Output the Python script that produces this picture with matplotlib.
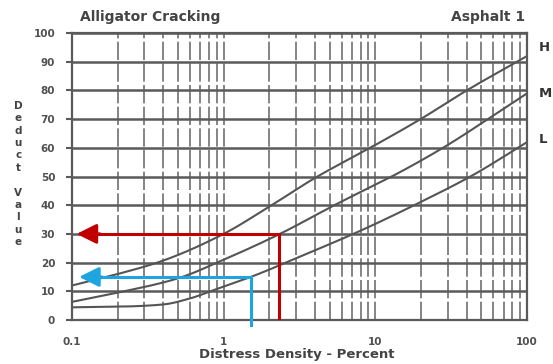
import numpy as np
import matplotlib
matplotlib.use("Agg")
import matplotlib.pyplot as plt

# curves (density %, deduct value)
h_x = [0.1, 0.2, 0.39, 1, 2, 4, 10, 20.3, 40, 100]
h_y = [12, 16, 20.5, 30, 39.5, 49.5, 61, 70.3, 80, 92]
m_x = [0.1, 0.2, 0.5, 1, 2.35, 5.6, 14.5, 30, 57, 100]
m_y = [6.3, 9.5, 14.5, 21, 30, 40.5, 51.5, 61, 70.5, 79]
l_x = [0.1, 0.23, 0.4, 0.6, 0.87, 1.6, 3.0, 7.9, 19.7, 44, 100]
l_y = [4.4, 4.7, 5.4, 7.5, 10.5, 15.5, 21.5, 31, 41, 50.5, 62]
curve_names = ['H', 'M', 'L']
curve_label_y = [95, 79, 63]

# example readings
red_density, red_deduct = 2.32, 30
blue_density, blue_deduct = 1.52, 15

yticks = [0, 10, 20, 30, 40, 50, 60, 70, 80, 90, 100]
xticks = [0.1, 1, 10, 100]
xtick_labels = ['0.1', '1', '10', '100']


def smooth(xs, ys, n=200):
    # monotone cubic through the read points, in log-x
    x = np.log10(xs)
    y = np.asarray(ys, float)
    h = np.diff(x)
    d = np.diff(y) / h
    m = np.zeros_like(y)
    m[0], m[-1] = d[0], d[-1]
    for k in range(1, len(y) - 1):
        if d[k - 1] * d[k] > 0:
            w1 = 2 * h[k] + h[k - 1]
            w2 = h[k] + 2 * h[k - 1]
            m[k] = (w1 + w2) / (w1 / d[k - 1] + w2 / d[k])
    xx = np.linspace(x[0], x[-1], n)
    idx = np.clip(np.searchsorted(x, xx) - 1, 0, len(h) - 1)
    t = (xx - x[idx]) / h[idx]
    yy = ((2 * t**3 - 3 * t**2 + 1) * y[idx] + (t**3 - 2 * t**2 + t) * h[idx] * m[idx]
          + (-2 * t**3 + 3 * t**2) * y[idx + 1] + (t**3 - t**2) * h[idx] * m[idx + 1])
    return 10 ** xx, yy


ink = '#505050'
plt.rcParams['font.family'] = ['DejaVu Sans']

fig = plt.figure(figsize=(5.53, 3.64), dpi=100)
ax = fig.add_axes([0.130, 0.121, 0.823, 0.788])
ax.set_xscale('log')
ax.set_xlim(0.1, 100)
ax.set_ylim(0, 100)

# vertical grid at every 1..9 multiple of each decade
vx = [m * 10.0 ** d for d in (-1, 0, 1) for m in range(1, 10)] + [100]
for v in vx:
    ax.axvline(v, color='#707070', lw=1.2, ls=(0, (11, 2)), zorder=1)
for v in yticks:
    ax.axhline(v, color='#5a5a5a', lw=1.8, zorder=1)

for xs, ys in [(h_x, h_y), (m_x, m_y), (l_x, l_y)]:
    sx, sy = smooth(xs, ys)
    ax.plot(sx, sy, color='#555555', lw=1.5, zorder=2)

for name, yy in zip(curve_names, curve_label_y):
    ax.text(1.025, yy, name, transform=ax.get_yaxis_transform(), fontsize=9.5,
            fontweight='bold', color='#333333', va='center', ha='left')

# example arrows
ax.plot([red_density, red_density, 0.145], [0.3, red_deduct, red_deduct],
        color='#c00000', lw=2.2, zorder=4, solid_joinstyle='miter')
ax.annotate('', xy=(0.103, red_deduct), xytext=(0.16, red_deduct),
            arrowprops=dict(arrowstyle='-|>,head_length=1.2,head_width=0.6',
                            color='#c00000', lw=2.2), zorder=5)
ax.plot([blue_density, blue_density, 0.15], [-1.7, blue_deduct, blue_deduct],
        color='#1ea5e0', lw=2.2, zorder=4, solid_joinstyle='miter', clip_on=False)
ax.annotate('', xy=(0.107, blue_deduct), xytext=(0.165, blue_deduct),
            arrowprops=dict(arrowstyle='-|>,head_length=1.2,head_width=0.6',
                            color='#1ea5e0', lw=2.2), zorder=5)

for s in ax.spines.values():
    s.set_color('#5a5a5a')
    s.set_linewidth(1.6)

ax.set_yticks(yticks)
ax.set_yticklabels([str(v) for v in yticks])
ax.set_xticks(xticks)
ax.set_xticklabels(xtick_labels)
ax.xaxis.set_minor_locator(matplotlib.ticker.NullLocator())
ax.tick_params(axis='y', length=4, width=1.5, color='#5a5a5a', pad=8,
               labelsize=7.5, labelcolor=ink)
ax.tick_params(axis='x', length=0, pad=12, labelsize=7.5, labelcolor=ink)
for lab in ax.get_yticklabels() + ax.get_xticklabels():
    lab.set_fontweight('bold')

fig.text(0.145, 0.952, 'Alligator Cracking', fontsize=10, fontweight='bold',
         color='#444444', ha='left', va='center')
fig.text(0.950, 0.952, 'Asphalt 1', fontsize=10, fontweight='bold',
         color='#444444', ha='right', va='center')
fig.text(0.537, 0.025, 'Distress Density - Percent', fontsize=9.5, fontweight='bold',
         color='#444444', ha='center', va='center')
fig.text(0.033, 0.522, 'D\ne\nd\nu\nc\nt\n\nV\na\nl\nu\ne', fontsize=7.5, fontweight='bold',
         color='#444444', ha='center', va='center', linespacing=1.3)

fig.savefig('out.png', dpi=100)
